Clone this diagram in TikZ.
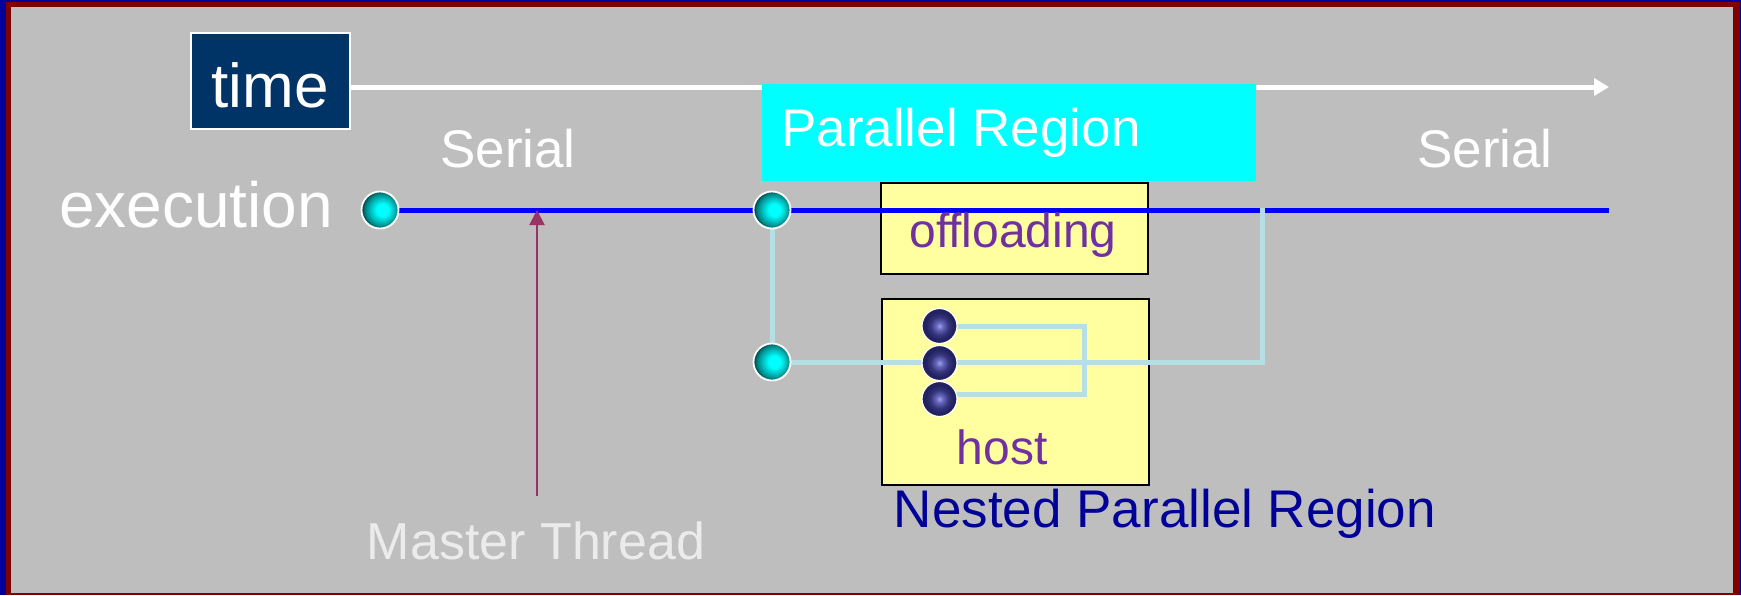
\documentclass[tikz,border=0pt]{standalone}
\usepackage{fontspec}
\setmainfont{Liberation Sans}
\usetikzlibrary{arrows.meta}
\definecolor{bgray}{HTML}{BEBEBE}
\definecolor{bordblue}{HTML}{000099}
\definecolor{bordred}{HTML}{800000}
\definecolor{navybox}{HTML}{003366}
\definecolor{aqua}{HTML}{00FFFF}
\definecolor{pureblue}{HTML}{0000FF}
\definecolor{lblue}{HTML}{B5DFE3}
\definecolor{ylw}{HTML}{FFFF9F}
\definecolor{purp}{HTML}{7030A0}
\definecolor{nestblue}{HTML}{000099}
\definecolor{maroonar}{HTML}{993366}
\definecolor{masterg}{HTML}{EBEBEB}
\definecolor{cmid}{HTML}{00B4B4}
\definecolor{cdark}{HTML}{007A7A}
\definecolor{cblk}{HTML}{002020}
\definecolor{dcen}{HTML}{A0A0F0}
\definecolor{dmid}{HTML}{6868BC}
\definecolor{ddark}{HTML}{34347C}
\definecolor{dedge}{HTML}{222260}
\pgfdeclareradialshading{cyanball}{\pgfpoint{4bp}{0bp}}{color(0bp)=(aqua); color(8bp)=(aqua); color(17bp)=(cmid); color(23bp)=(cdark); color(28bp)=(cblk); color(50bp)=(cblk)}
\pgfdeclareradialshading{darkball}{\pgfpoint{0bp}{0bp}}{color(0bp)=(dcen); color(5bp)=(dmid); color(13bp)=(ddark); color(20bp)=(dedge); color(50bp)=(dedge)}
\newcommand{\myfs}[1]{\fontsize{#1}{#1}\selectfont}
\tikzset{
  cball/.style={circle, minimum size=37pt, inner sep=0pt, draw=white, line width=1.8pt, shading=cyanball},
  dball/.style={circle, minimum size=35pt, inner sep=0pt, draw=white, line width=1.2pt, shading=darkball},
  ybox/.style={draw=black, line width=1.5pt, fill=ylw, inner sep=0pt},
  lightline/.style={draw=lblue, line width=5pt},
  blueline/.style={draw=pureblue, line width=5pt},
  txt/.style={inner sep=0pt, anchor=base},
}
\begin{document}
\begin{tikzpicture}[x=1pt,y=-1pt]
\useasboundingbox (0,0) rectangle (1741,595);
\fill[bordblue] (0,0) rectangle (1741,595);
\fill[bordred] (6,2) rectangle (1740,595);
\fill[bgray] (11,7) rectangle (1733,593);

% time box and arrow
\node[fill=navybox, draw=white, line width=1.5pt, minimum width=159pt, minimum height=96pt, inner sep=0pt] (timebox) at (270.5,81) {};
\coordinate (tend) at (1609,87);
\draw[white, line width=5pt, -{Triangle[length=15pt,width=17pt]}] (timebox.east |- tend) -- (tend);

% parallel region box
\node[fill=aqua, minimum width=494pt, minimum height=97pt, inner sep=0pt] (pbox) at (1009,132.5) {};

% offloading and host boxes
\node[ybox, minimum width=267pt, minimum height=91pt] (offbox) at (1014.5,228.5) {};
\node[ybox, minimum width=267pt, minimum height=186pt] (hostbox) at (1015.5,392) {};

% thread nodes positions
\coordinate (p1) at (380,210);
\coordinate (p2) at (772,210);
\coordinate (p3) at (772,362);
\coordinate (bend) at (1609,210);
\coordinate (jr) at (1262,362);
\coordinate (jt) at (1262,207.5);
\coordinate (lr) at (1084,394);
\coordinate (q1) at (939.5,326);
\coordinate (q2) at (939.5,363);
\coordinate (q3) at (939.5,399);

% execution line
\draw[blueline] (p1) -- (bend);

% light connectors
\draw[lightline] (p2) -- (p3);
\draw[lightline] (p3) -- (jr) -- (jt);
\draw[lightline] (q1) -| (lr) -- (lr -| q3);

% balls
\node[cball] (c1) at (p1) {};
\node[cball] (c2) at (p2) {};
\node[cball] (c3) at (p3) {};
\node[dball] (h1) at (q1) {};
\node[dball] (h2) at (q2) {};
\node[dball] (h3) at (q3) {};

% master thread arrow
\coordinate (mstart) at (537,496);
\draw[maroonar, line width=2pt, -{Triangle[length=15pt,width=15pt]}] (mstart) -- (mstart |- c1);

% texts
\node[txt, text=white] (ttime) at (270,107) {\myfs{62}time};
\node[txt, text=white] (tser1) at (508,167) {\myfs{53}Serial};
\node[txt, text=white] (tser2) at (1485,167) {\myfs{53}Serial};
\node[txt, text=white] (tpar) at (961,146) {\myfs{53}Parallel Region};
\node[txt, text=white] (texec) at (196,227) {\myfs{64}execution};
\node[txt, text=purp] (toff) at (1013,247) {\myfs{48}offloading};
\node[txt, text=purp] (thost) at (1002,464) {\myfs{48}host};
\node[txt, text=nestblue] (tnest) at (1165,527) {\myfs{53}Nested Parallel Region};
\node[txt, text=masterg] (tmaster) at (536,559) {\myfs{52}Master Thread};
\end{tikzpicture}
\end{document}
